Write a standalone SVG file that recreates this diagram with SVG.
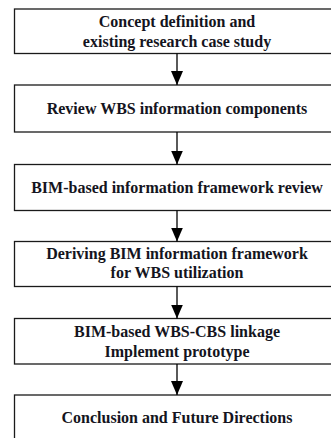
<svg xmlns="http://www.w3.org/2000/svg" width="331" height="438" viewBox="0 0 331 438">
<defs>
<style>
.box{fill:#fff;stroke:#1a1a1a;stroke-width:1.3}
.t{font-family:'Liberation Serif','Times New Roman',serif;font-weight:700;font-size:16px;fill:#141420;text-anchor:middle}
.c line{stroke:#000;stroke-width:1.3}
</style>
<marker id="ah" viewBox="0 0 14 12" refX="14" refY="6" markerWidth="14" markerHeight="12" markerUnits="userSpaceOnUse" orient="auto">
<path d="M0,0 L14,6 L0,12 Z" fill="#000"/>
</marker>
</defs>
<rect width="331" height="438" fill="#fff"/>
<g id="n1"><rect class="box" x="14.5" y="9" width="325" height="44.5"/><text class="t" x="177" y="26.5">Concept definition and</text><text class="t" x="177" y="46.5">existing research case study</text></g>
<g id="n2"><rect class="box" x="14.5" y="85" width="325" height="47"/><text class="t" x="177" y="113.5">Review WBS information components</text></g>
<g id="n3"><rect class="box" x="14.5" y="164.5" width="325" height="46"/><text class="t" x="177" y="193">BIM-based information framework review</text></g>
<g id="n4"><rect class="box" x="14.5" y="241.5" width="325" height="45"/><text class="t" x="177" y="258.5">Deriving BIM information framework</text><text class="t" x="177" y="277.5">for WBS utilization</text></g>
<g id="n5"><rect class="box" x="14.5" y="318.5" width="325" height="45.5"/><text class="t" x="177" y="336.5">BIM-based WBS-CBS linkage</text><text class="t" x="177" y="356.5">Implement prototype</text></g>
<g id="n6"><rect class="box" x="14.5" y="395" width="325" height="60"/><text class="t" x="177" y="423">Conclusion and Future Directions</text></g>
<g class="c" id="connectors">
<line x1="177" y1="53.5" x2="177" y2="85" marker-end="url(#ah)"/>
<line x1="177" y1="132" x2="177" y2="164.5" marker-end="url(#ah)"/>
<line x1="177" y1="210.5" x2="177" y2="241.5" marker-end="url(#ah)"/>
<line x1="177" y1="286.5" x2="177" y2="318.5" marker-end="url(#ah)"/>
<line x1="177" y1="364" x2="177" y2="395" marker-end="url(#ah)"/>
</g>
</svg>
